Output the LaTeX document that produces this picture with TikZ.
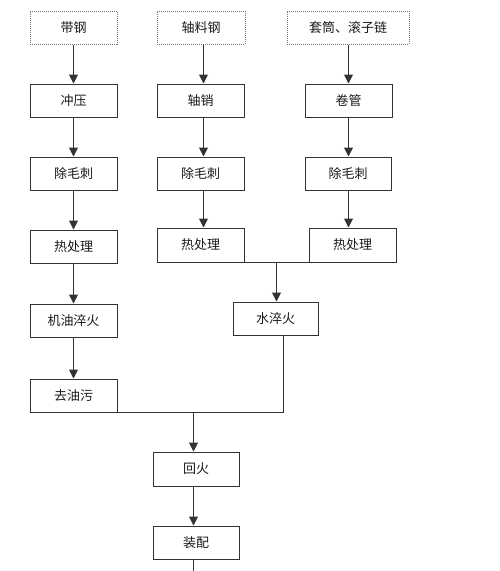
\documentclass[tikz,border=0pt]{standalone}
\usepackage{fontspec}
\newfontfamily\cjk{Noto Sans CJK SC}
\usetikzlibrary{arrows.meta}
\definecolor{lncol}{HTML}{333333}
\tikzset{
  box/.style={draw=lncol, line width=1pt, rectangle, inner sep=0pt, minimum height=33pt, font=\cjk\fontsize{13}{15}\selectfont, text=black!90},
  srcbox/.style={box, draw=black!55, densely dotted},
  arr/.style={draw=lncol, line width=1pt, -{Triangle[width=9pt,length=9pt]}},
  conn/.style={draw=lncol, line width=1pt},
}
\begin{document}
\begin{tikzpicture}[x=1pt,y=-1pt]
\useasboundingbox (0,0) rectangle (500,571);
% sources
\node[srcbox, minimum width=87pt] (s1) at (73.5,27.5) {带钢};
\node[srcbox, minimum width=88pt] (s2) at (201,27.5) {轴料钢};
\node[srcbox, minimum width=122pt] (s3) at (348,27.5) {套筒、滚子链};
% row a
\node[box, minimum width=87pt] (a1) at (73.5,100.5) {冲压};
\node[box, minimum width=87pt] (a2) at (200.5,100.5) {轴销};
\node[box, minimum width=87pt] (a3) at (348.5,100.5) {卷管};
% row b
\node[box, minimum width=87pt] (b1) at (73.5,173.5) {除毛刺};
\node[box, minimum width=87pt] (b2) at (200.5,173.5) {除毛刺};
\node[box, minimum width=86pt] (b3) at (348,173.5) {除毛刺};
% row c
\node[box, minimum width=87pt] (c1) at (73.5,246.5) {热处理};
\node[box, minimum width=87pt, minimum height=34pt] (c2) at (200.5,245) {热处理};
\node[box, minimum width=87pt, minimum height=34pt] (c3) at (352.5,245) {热处理};
% row d
\node[box, minimum width=87pt] (d1) at (73.5,320.5) {机油淬火};
\node[box, minimum width=85pt] (d2) at (275.5,318.5) {水淬火};
% row e
\node[box, minimum width=87pt] (e1) at (73.5,395.5) {去油污};
% bottom
\node[box, minimum width=86pt, minimum height=34pt] (f) at (196,469) {回火};
\node[box, minimum width=86pt] (g) at (196,542.5) {装配};
% column coordinates
\coordinate (x2) at (203.5,0);
\coordinate (x3) at (348.5,0);
% connectors column 1
\draw[arr] (s1) -- (a1);
\draw[arr] (a1) -- (b1);
\draw[arr] (b1) -- (c1);
\draw[arr] (c1) -- (d1);
\draw[arr] (d1) -- (e1);
% column 2
\draw[arr] (s2.south -| x2) -- (a2.north -| x2);
\draw[arr] (a2.south -| x2) -- (b2.north -| x2);
\draw[arr] (b2.south -| x2) -- (c2.north -| x2);
% column 3
\draw[arr] (s3.south -| x3) -- (a3.north -| x3);
\draw[arr] (a3.south -| x3) -- (b3.north -| x3);
\draw[arr] (b3.south -| x3) -- (c3.north -| x3);
% merge heat treatments
\coordinate (m1) at (276.5,262);
\draw[conn] (c2.south east) -- (c3.south west);
\draw[arr] (m1) -- (m1 |- d2.north);
% merge to tempering
\coordinate (m2) at (193.5,412.5);
\coordinate (m3) at (283.5,412.5);
\draw[conn] (d2.south -| m3) -- (m3) -- (m3 -| e1.east);
\draw[arr] (m2) -- (m2 |- f.north);
\draw[arr] (f.south -| m2) -- (m2 |- g.north);
\coordinate (end) at (193.5,571);
\draw[conn] (g.south -| m2) -- (end);
\end{tikzpicture}
\end{document}
